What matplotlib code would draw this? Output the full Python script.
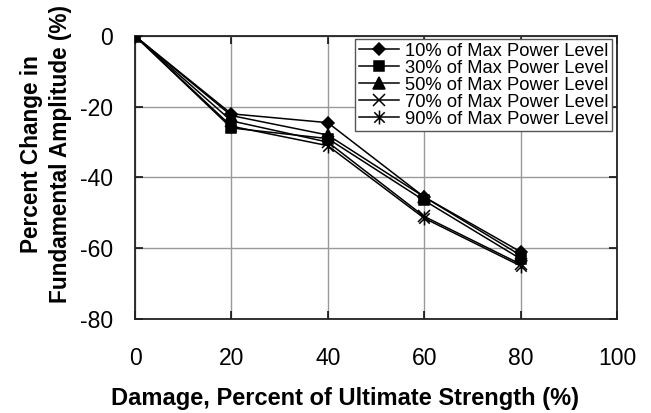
import matplotlib
matplotlib.use("Agg")
import matplotlib.pyplot as plt
from matplotlib.path import Path

plt.rcParams['font.family'] = ['Liberation Sans', 'DejaVu Sans']
plt.rcParams['axes.unicode_minus'] = False

damage = [0, 20, 40, 60, 80]
p10 = [0, -22.0, -24.5, -45.5, -61.0]
p30 = [0, -26.0, -29.0, -46.5, -63.0]
p50 = [0, -22.5, -28.0, -45.5, -62.0]
p70 = [0, -24.0, -30.0, -51.0, -64.5]
p90 = [0, -25.5, -31.0, -51.5, -65.0]
labels = ['10% of Max Power Level', '30% of Max Power Level', '50% of Max Power Level',
          '70% of Max Power Level', '90% of Max Power Level']
xticks = [0, 20, 40, 60, 80, 100]
yticks = [0, -20, -40, -60, -80]

# excel style star: x plus vertical bar
star = Path([(0, -1), (0, 1), (-0.75, -0.75), (0.75, 0.75), (-0.75, 0.75), (0.75, -0.75)],
            [Path.MOVETO, Path.LINETO, Path.MOVETO, Path.LINETO, Path.MOVETO, Path.LINETO])

fig = plt.figure(figsize=(6.51, 4.13), dpi=100)
ax = fig.add_axes([135/651, 1-319/413, 482/651, 283/413])

series = [p10, p30, p50, p70, p90]
markers = ['D', 's', '^', 'x', star]
msizes = [6.5, 7, 8, 9, 10]
for vals, m, ms, lab in zip(series, markers, msizes, labels):
    ax.plot(damage, vals, color='black', lw=1.1, marker=m, ms=ms,
            mec='black', mfc='black', mew=1.1, label=lab, zorder=3)

ax.set_xlim(0, 100)
ax.set_ylim(-80, 0)
ax.set_xticks(xticks)
ax.set_yticks(yticks)
ax.grid(True, color='#999999', lw=1.0)
ax.set_axisbelow(True)
for s in ax.spines.values():
    s.set_linewidth(1.3)
    s.set_color('#222222')
ax.tick_params(axis='both', direction='in', length=6, width=1.1, top=True, right=True,
               labelsize=16.5)
ax.tick_params(axis='x', pad=20)
ax.tick_params(axis='y', pad=16)

fig.text(345/651, 1-398/413, 'Damage, Percent of Ultimate Strength (%)', ha='center',
         va='center', fontsize=17, fontweight='bold')
fig.text(46/651, 1-154/413, 'Percent Change in\nFundamental Amplitude (%)', rotation=90,
         ha='center', va='center', fontsize=16.3, fontweight='bold', multialignment='center',
         linespacing=1.35)

leg = ax.legend(loc='upper right', bbox_to_anchor=(612/651, 1-39/413),
                bbox_transform=fig.transFigure, borderaxespad=0, fontsize=13.2,
                fancybox=False, framealpha=1, edgecolor='#555555', numpoints=1,
                handlelength=2.2, handletextpad=0.3, labelspacing=0.0, borderpad=0.2)
leg.get_frame().set_linewidth(1.0)

fig.savefig('out.png', dpi=100)
